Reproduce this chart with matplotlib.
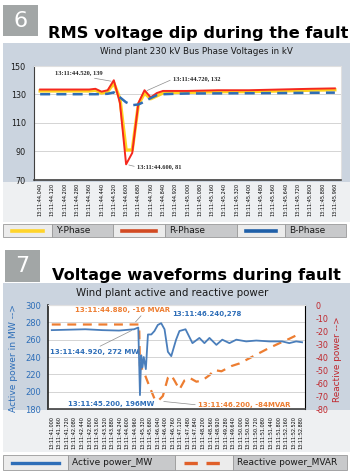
import matplotlib.pyplot as plt
from matplotlib.patches import Rectangle
from matplotlib.lines import Line2D

plt.rcParams['axes.unicode_minus'] = False

# figure is laid out in pixels of the 352x473 reference
W, H = 352, 473


def fx(px):
    return px / W


def fy(py):
    return 1 - py / H


# ---- chart 6: bus phase voltages (kV) ----
volt_ticks = ['13:11:44.040', '13:11:44.120', '13:11:44.200', '13:11:44.280', '13:11:44.360',
              '13:11:44.440', '13:11:44.520', '13:11:44.600', '13:11:44.680', '13:11:44.760',
              '13:11:44.840', '13:11:44.920', '13:11:45.000', '13:11:45.080', '13:11:45.160',
              '13:11:45.240', '13:11:45.320', '13:11:45.400', '13:11:45.480', '13:11:45.560',
              '13:11:45.640', '13:11:45.720', '13:11:45.800', '13:11:45.880', '13:11:45.960']
t_volt = [44.04, 44.12, 44.20, 44.28, 44.36, 44.40, 44.44, 44.48, 44.52, 44.56, 44.60, 44.64,
          44.68, 44.72, 44.76, 44.80, 44.84, 44.92, 45.00, 45.20, 45.40, 45.60, 45.80, 45.96]
r_phase = [133.5, 133.5, 133.5, 133.5, 133.5, 134, 132, 133, 140, 124, 81, 89,
           124, 133, 128, 131, 132.5, 132.5, 132.5, 133, 133, 133.5, 134, 134.3]
y_phase = [132.5, 132.5, 132.5, 132.5, 132.5, 133, 131, 132, 138, 127, 91, 91,
           123, 131, 127, 129, 131, 131.5, 131.5, 132, 132, 132.5, 133, 133.3]
b_phase = [130.2, 130.2, 130.2, 130.2, 130.2, 130.2, 130.3, 130.5, 131.5, 128, 124.5, 122.5,
           123, 125, 127.5, 129.5, 130.2, 130.5, 130.7, 130.8, 130.9, 131, 131.2, 131.3]

# ---- chart 7: active / reactive power ----
pow_ticks = ['13:11:41.000', '13:11:41.360', '13:11:41.720', '13:11:42.080', '13:11:42.440',
             '13:11:42.800', '13:11:43.160', '13:11:43.520', '13:11:43.880', '13:11:44.240',
             '13:11:44.600', '13:11:44.960', '13:11:45.320', '13:11:45.680', '13:11:46.040',
             '13:11:46.400', '13:11:46.760', '13:11:47.120', '13:11:47.480', '13:11:47.840',
             '13:11:48.200', '13:11:48.560', '13:11:48.920', '13:11:49.280', '13:11:49.640',
             '13:11:50.000', '13:11:50.360', '13:11:50.720', '13:11:51.080', '13:11:51.440',
             '13:11:51.800', '13:11:52.160', '13:11:52.520', '13:11:52.880']
t_mw = [41.00, 41.80, 42.60, 43.40, 44.20, 44.92, 45.12, 45.20, 45.26, 45.32, 45.38, 45.48,
        45.58, 45.74, 45.89, 46.05, 46.21, 46.37, 46.53, 46.69, 46.92, 47.08, 47.37, 47.70,
        48.03, 48.27, 48.51, 48.84, 49.12, 49.46, 49.79, 50.26, 50.74, 51.36, 51.97, 52.31,
        52.64, 52.92]
active_mw = [271, 271.5, 272, 271, 270.5, 272, 274, 196, 242, 228, 240, 226,
             266, 266, 270, 277, 279, 272, 246, 241, 260, 270, 272, 256,
             262, 256, 262, 254, 260, 256, 260, 258, 259, 258, 258, 256,
             258, 257]
t_mvar = [41.00, 42.00, 43.00, 44.00, 44.88, 45.16, 45.20, 45.26, 45.42, 45.66, 45.89, 46.05,
          46.29, 46.53, 46.69, 46.84, 47.08, 47.32, 47.56, 47.89, 48.17, 48.51, 48.74, 49.08,
          49.55, 49.93, 50.41, 50.88, 51.36, 51.83, 52.31, 52.69]
reactive_mvar = [-15, -15, -15, -15, -15, -15, -47, -48, -53, -63, -72, -74,
                 -70, -56, -54, -58, -65, -58, -56, -59, -58, -54, -50, -51,
                 -47, -45, -41, -37, -33, -29.5, -26, -23]

fig = plt.figure(figsize=(3.52, 4.73), dpi=100)
fig.patch.set_facecolor('white')


def box(x0, y0, x1, y1, color, ec='none', lw=0.6):
    fig.add_artist(Rectangle((fx(x0), fy(y1)), (x1 - x0) / W, (y1 - y0) / H,
                             transform=fig.transFigure, facecolor=color,
                             edgecolor=ec, linewidth=lw, zorder=-5))


def legend_row(y0, y1, cells):
    # cells: (x0, x1, label or None, line style dict)
    for x0, x1, label, style in cells:
        if label is None:
            box(x0, y0, x1, y1, '#ececec', ec='#9a9a9a')
            fig.add_artist(Line2D([fx(x0 + 9), fx(x1 - 9)], [fy((y0 + y1) / 2)] * 2,
                                  transform=fig.transFigure, **style))
        else:
            box(x0, y0, x1, y1, '#c8c9cb', ec='#9a9a9a')
            fig.text(fx(x0 + 4), fy((y0 + y1) / 2), label, fontsize=6.5,
                     va='center', ha='left', color='#1a1a1a')


# ---------------- section 6 ----------------
box(3, 5, 38, 36, '#a2a6a6')
fig.text(fx(20.5), fy(21), '6', color='white', fontsize=16, ha='center', va='center')
fig.text(fx(48), fy(38), 'RMS voltage dip during the fault', fontsize=11.7,
         fontweight='bold', va='baseline', ha='left')

box(3, 43, 350, 182, '#cbd4df')
box(3, 182, 350, 222, '#eef0f2')
fig.text(fx(196), fy(52), 'Wind plant 230 kV Bus Phase Voltages in kV', fontsize=6.3,
         ha='center', va='center', color='#1a1a1a')

ax1 = fig.add_axes([fx(34), fy(180), (341 - 34) / W, (180 - 66) / H])
ax1.plot(t_volt, y_phase, color='#ffd21f', lw=2.4, zorder=3)
ax1.plot(t_volt, r_phase, color='#f5281e', lw=1.4, zorder=4)
ax1.plot(t_volt, b_phase, color='#2f6db5', lw=1.8, dashes=(4, 2.5), zorder=5)
ax1.set_xlim(44.0, 46.0)
ax1.set_ylim(70, 150)
ax1.set_yticks([70, 90, 110, 130, 150])
ax1.set_xticks([float(s.split(':')[-1]) for s in volt_ticks])
ax1.set_xticklabels(volt_ticks, rotation=90, fontsize=3.6, va='top')
ax1.tick_params(axis='x', length=0, pad=2)
ax1.tick_params(axis='y', length=0, pad=6, labelsize=5.8, labelcolor='#1a1a1a')
ax1.grid(axis='y', color='#d4d4d4', lw=0.7)
ax1.set_axisbelow(True)
for side in ['top', 'right']:
    ax1.spines[side].set_color('#e0e0e0')
ax1.spines['left'].set_color('#404040')
ax1.spines['bottom'].set_color('#404040')
ax1.spines['bottom'].set_linewidth(1.2)

note = dict(fontsize=4.6, fontweight='bold', family='Liberation Serif', color='#262626',
            textcoords='figure fraction', va='center', ha='left')
lead = dict(arrowstyle='-', color='#8c8c8c', lw=0.5, shrinkA=0, shrinkB=2)
ax1.annotate('13:11:44.520, 139', xy=(44.52, 139), xytext=(fx(55), fy(73)),
             arrowprops=dict(lead, relpos=(0.5, 0)), **note)
ax1.annotate('13:11:44.720, 132', xy=(44.72, 132), xytext=(fx(173), fy(79)),
             arrowprops=dict(lead, relpos=(0, 0.5)), **note)
ax1.annotate('13:11:44.600, 81', xy=(44.60, 81), xytext=(fx(137), fy(167)),
             arrowprops=dict(lead, relpos=(0, 0.5)), **note)

legend_row(224, 237, [
    (3, 52, None, dict(color='#ffd42a', lw=2.6)),
    (52, 113, 'Y-Phase', None),
    (113, 165, None, dict(color='#d24a22', lw=2.6)),
    (165, 237, 'R-Phase', None),
    (237, 285, None, dict(color='#1f5fa8', lw=2.6)),
    (285, 346, 'B-Phase', None),
])

# ---------------- section 7 ----------------
box(5, 250, 40, 282, '#a2a6a6')
fig.text(fx(22.5), fy(266), '7', color='white', fontsize=16, ha='center', va='center')
fig.text(fx(52), fy(280), 'Voltage waveforms during fault', fontsize=11.6,
         fontweight='bold', va='baseline', ha='left')

box(3, 283, 350, 410, '#cbd4df')
box(3, 410, 350, 452, '#eef0f2')
fig.text(fx(172), fy(293), 'Wind plant active and reactive power', fontsize=7.4,
         ha='center', va='center', color='#1a1a1a')

ax2 = fig.add_axes([fx(48), fy(409), (305 - 48) / W, (409 - 305) / H])
ax2.plot(t_mw, active_mw, color='#4a7ebb', lw=1.3, zorder=4)
ax2.set_xlim(40.82, 53.06)
ax2.set_ylim(180, 300)
ax2.set_yticks([180, 200, 220, 240, 260, 280, 300])
ax2.set_xticks([float(s.split(':')[-1]) for s in pow_ticks])
ax2.set_xticklabels(pow_ticks, rotation=90, fontsize=3.5, va='top')
ax2.tick_params(axis='x', length=0, pad=5)
ax2.tick_params(axis='y', length=0, pad=5, labelsize=6, labelcolor='#2e6eb8')
ax2.grid(axis='y', color='#d4d4d4', lw=0.7)
ax2.set_axisbelow(True)
ax2.spines['left'].set_color('#202020')
ax2.spines['left'].set_linewidth(1.2)
ax2.spines['bottom'].set_color('#404040')
ax2.spines['bottom'].set_linewidth(1.2)
ax2.spines['top'].set_color('#e0e0e0')

ax2b = ax2.twinx()
ax2b.plot(t_mvar, reactive_mvar, color='#ed7d31', lw=1.6, dashes=(4, 3), zorder=3)
ax2b.set_ylim(-80, 0)
ax2b.set_yticks([-80, -70, -60, -50, -40, -30, -20, -10, 0])
ax2b.tick_params(axis='y', length=0, pad=7.5, labelsize=5.8, labelcolor='#c0272d')
ax2b.spines['right'].set_color('#e0e0e0')
ax2b.spines['top'].set_color('#e0e0e0')
ax2b.spines['left'].set_visible(False)
ax2b.spines['bottom'].set_visible(False)
ax2.set_zorder(ax2b.get_zorder() + 1)
ax2.patch.set_visible(False)
ax2b.patch.set_visible(True)
ax2b.patch.set_facecolor('white')

fig.text(fx(14), fy(358), 'Active power in MW -->', rotation=90, fontsize=6.6,
         color='#2e6eb8', ha='center', va='center')
fig.text(fx(338), fy(359), 'Reactive power -->', rotation=90, fontsize=6.4,
         color='#c0272d', ha='center', va='center')

note2 = dict(fontsize=5, fontweight='bold', textcoords='figure fraction',
             va='center', ha='left')
ax2b.annotate('13:11:44.880, -16 MVAR', xy=(44.88, -15), xytext=(fx(75), fy(310)),
              color='#ed7d31', arrowprops=dict(lead, relpos=(0.72, 0)), **note2)
ax2.annotate('13:11:44.920, 272 MW', xy=(44.92, 272), xytext=(fx(50), fy(352)),
             color='#2e6eb8', arrowprops=dict(lead, relpos=(0.5, 1)), **note2)
ax2.annotate('13:11:45.200, 196MW', xy=(45.20, 196), xytext=(fx(68), fy(404)),
             color='#2e6eb8', **note2)
ax2.annotate('13:11:46.240,278', xy=(46.24, 278), xytext=(fx(172), fy(314)),
             color='#2e6eb8', **note2)
ax2b.annotate('13:11:46.200, -84MVAR', xy=(46.20, -74), xytext=(fx(198), fy(405)),
              color='#ed7d31', arrowprops=dict(lead, relpos=(0, 0.5)), **note2)

legend_row(455, 470, [
    (3, 68, None, dict(color='#2e6eb8', lw=2.4)),
    (68, 175, 'Active power_MW', None),
    (175, 233, None, dict(color='#e0602a', lw=2.4, dashes=(4, 2.6))),
    (233, 347, 'Reactive power_MVAR', None),
])

fig.savefig('out.png', dpi=100)
